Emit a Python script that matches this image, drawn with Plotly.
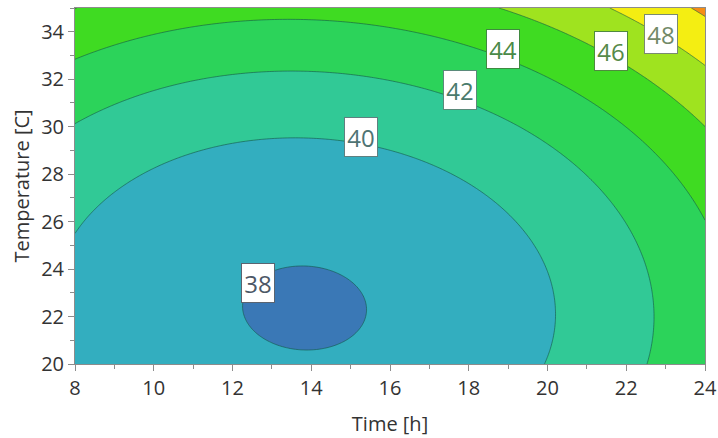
import numpy as np
import plotly.graph_objects as go

# Quadratic response-surface model (centred form):
# z = z_min + a*(t-t0)^2 + b*(T-T0)^2 + c*(t-t0)*(T-T0)
model_center = [13.83, 22.36]          # time [h], temperature [C] at the minimum
model_zmin = 37.87
model_coef = [0.0525, 0.0415, 0.0035]  # a (time^2), b (temp^2), c (interaction)

time_range = [8, 24]
temp_range = [20, 35]

contour_levels = [38, 40, 42, 44, 46, 48, 50]
band_colors = ["#3a78b6", "#33aebf", "#31c996", "#2cd35a",
               "#3fdb22", "#9fe31f", "#f4ee12", "#f58d14"]

label_values = [38, 40, 42, 44, 46, 48]
label_time = [12.64, 15.26, 17.77, 18.86, 21.60, 22.87]
label_temp = [23.41, 29.56, 31.54, 33.26, 33.18, 33.89]
label_text_colors = ["#4d5866", "#4f7373", "#4a7a6c", "#4a8a48", "#568a48", "#728a68"]
label_border_colors = ["#5a6470", "#5f8080", "#5a8a7a", "#3f8a3f", "#4f8a3f", "#7a8a70"]

t = np.linspace(time_range[0], time_range[1], 241)
T = np.linspace(temp_range[0], temp_range[1], 226)
tt, TT = np.meshgrid(t, T)
dt = tt - model_center[0]
dT = TT - model_center[1]
a, b, c = model_coef
z = model_zmin + a * dt ** 2 + b * dT ** 2 + c * dt * dT

n = len(band_colors)
colorscale = [[i / (n - 1), col] for i, col in enumerate(band_colors)]

fig = go.Figure()
fig.add_trace(go.Contour(
    x=t, y=T, z=z,
    colorscale=colorscale,
    showscale=False,
    contours=dict(start=contour_levels[0], end=contour_levels[-1],
                  size=contour_levels[1] - contour_levels[0], coloring="fill"),
    line=dict(color="rgba(20,85,70,0.6)", width=1),
    hoverinfo="skip",
))

for val, x, y, tc, bc in zip(label_values, label_time, label_temp,
                             label_text_colors, label_border_colors):
    fig.add_annotation(
        x=x, y=y, xref="x", yref="y", text=str(val), showarrow=False,
        font=dict(family="Open Sans", size=24, color=tc),
        bgcolor="white", bordercolor=bc, borderwidth=1, borderpad=1,
        width=30, height=36, align="center", valign="middle",
    )

axis_common = dict(
    showline=True, linecolor="#8c8c8c", linewidth=1, mirror=True,
    ticks="outside", ticklen=6, tickcolor="#8c8c8c", tickwidth=1,
    showgrid=False, zeroline=False, automargin=False,
    tickfont=dict(family="Open Sans", size=20, color="#333333"),
    minor=dict(ticks="outside", ticklen=4, tickcolor="#8c8c8c", dtick=1),
)

fig.update_xaxes(range=time_range, dtick=2, tick0=8,
                 title=dict(text="Time [h]", standoff=16,
                            font=dict(family="Open Sans", size=20, color="#333333")),
                 **axis_common)
fig.update_yaxes(range=temp_range, dtick=2, tick0=20,
                 title=dict(text="Temperature [C]", standoff=6,
                            font=dict(family="Open Sans", size=20, color="#333333")),
                 **axis_common)

fig.update_layout(
    width=718, height=438,
    margin=dict(l=75, r=13, t=8, b=74),
    paper_bgcolor="white", plot_bgcolor="white",
    showlegend=False,
)

fig.write_html("out.html")
